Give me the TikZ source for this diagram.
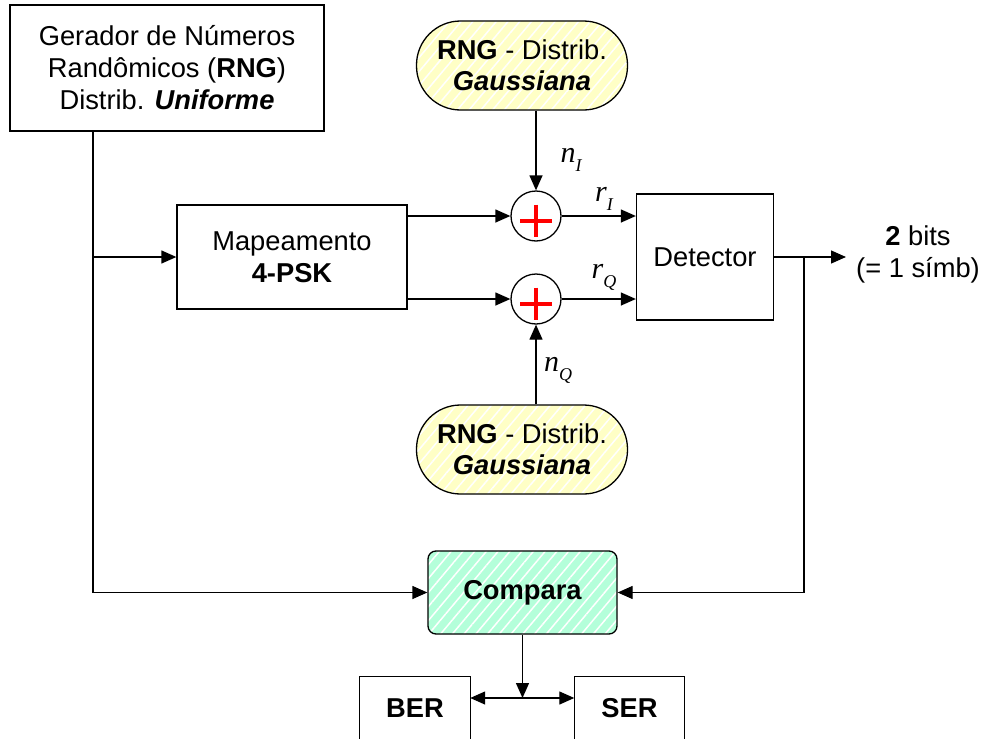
\documentclass[tikz,border=0pt]{standalone}
\usepackage{fontspec}
\setmainfont{Liberation Sans}
\newfontfamily\tmsfont{Liberation Serif}
\usetikzlibrary{arrows.meta,patterns.meta,calc}
\definecolor{yel}{RGB}{255,255,198}
\definecolor{mint}{RGB}{180,255,218}
\begin{document}
\begin{tikzpicture}[x=1pt,y=-1pt,
  every node/.style={font=\fontsize{27.3}{32}\selectfont, align=center, inner sep=0pt},
  blk/.style={draw, line width=1.3pt},
  hatch/.style={preaction={fill=#1}, preaction={pattern={Lines[angle=50,distance=9pt,line width=1.5pt]}, pattern color=white}},
  rng/.style={blk, hatch=yel, rounded corners=44pt, minimum width=211pt, minimum height=89pt, font=\fontsize{27.3}{31}\selectfont},
  adder/.style={draw, circle, line width=1.3pt, minimum size=50pt},
  ln/.style={line width=1.3pt},
  arr/.style={line width=1.3pt, -{Triangle[length=15pt,width=13pt]}},
  darr/.style={line width=1.3pt, {Triangle[length=15pt,width=13pt]}-{Triangle[length=15pt,width=13pt]}},
  lbl/.style={font=\fontsize{30}{30}\selectfont\tmsfont\itshape}
]
\clip (0,0) rectangle (986,739);

% blocks
\node[blk, minimum width=314pt, minimum height=126pt] (gen) at (167,68)
  {Gerador de Números\\Randômicos (\textbf{RNG})\\Distrib. \textbf{\textit{Uniforme}}};
\node[blk, minimum width=230pt, minimum height=104pt] (map) at (292,257)
  {Mapeamento\\\textbf{4-PSK}};
\node[blk, minimum width=137pt, minimum height=126pt] (det) at (705,257) {Detector};
\node[rng] (rngT) at (522,65.5) {\textbf{RNG} - Distrib.\\\textbf{\textit{Gaussiana}}};
\node[rng] (rngB) at (522,449.5) {\textbf{RNG} - Distrib.\\\textbf{\textit{Gaussiana}}};
\node[adder] (add1) at (536,216) {};
\node[adder] (add2) at (536,299) {};
\node[blk, hatch=mint, rounded corners=8pt, minimum width=189pt, minimum height=83pt] (cmp) at (522.5,592.5) {\textbf{Compara}};
\node[minimum width=110pt, minimum height=62pt] (ber) at (415,708) {\textbf{BER}};
\node[minimum width=110pt, minimum height=62pt] (ser) at (629.5,708) {\textbf{SER}};
\node (out) at (918,254) {\textbf{2} bits\\(= 1 símb)};

% BER / SER open boxes
\draw[ln] ([yshift=-10pt]ber.south west) -- (ber.north west) -- (ber.north east) -- ([yshift=-10pt]ber.south east);
\draw[ln] ([yshift=-10pt]ser.south west) -- (ser.north west) -- (ser.north east) -- ([yshift=-10pt]ser.south east);

% plus signs
\foreach \a in {add1,add2}{
  \draw[red, line width=4pt] ($(\a)+(-16,4.5)$) -- ($(\a)+(16,4.5)$);
  \draw[red, line width=4pt] ($(\a)+(0,-11.5)$) -- ($(\a)+(0,20.5)$);
}

% junctions
\coordinate (jL) at (93,257);
\coordinate (jR) at (804,257);
\coordinate (jB) at (522.5,698);
\coordinate (outtip) at (846,257);

% connectors
\draw[ln] (gen.south -| jL) -- (jL);
\draw[arr] (jL) -- (map.west);
\draw[arr] (jL) |- (cmp.west);
\draw[arr] (map.east |- add1) -- (add1.west);
\draw[arr] (map.east |- add2) -- (add2.west);
\draw[arr] (add1.east) -- (det.west |- add1);
\draw[arr] (add2.east) -- (det.west |- add2);
\draw[arr] (rngT.south -| add1) -- (add1.north);
\draw[arr] (rngB.north -| add2) -- (add2.south);
\draw[arr] (det.east) -- (outtip);
\draw[arr] (jR) |- (cmp.east);
\draw[arr] (cmp.south) -- (jB);
\draw[darr] (ber.east |- jB) -- (ser.west |- jB);

% labels
\node[lbl] (nI) at (571,160) {n\raisebox{-9pt}{\fontsize{18}{18}\selectfont I}};
\node[lbl] (rI) at (604,199) {r\raisebox{-9pt}{\fontsize{18}{18}\selectfont I}};
\node[lbl] (rQ) at (604,277) {r\raisebox{-9pt}{\fontsize{18}{18}\selectfont Q}};
\node[lbl] (nQ) at (558,370) {n\raisebox{-9pt}{\fontsize{18}{18}\selectfont Q}};
\end{tikzpicture}
\end{document}
